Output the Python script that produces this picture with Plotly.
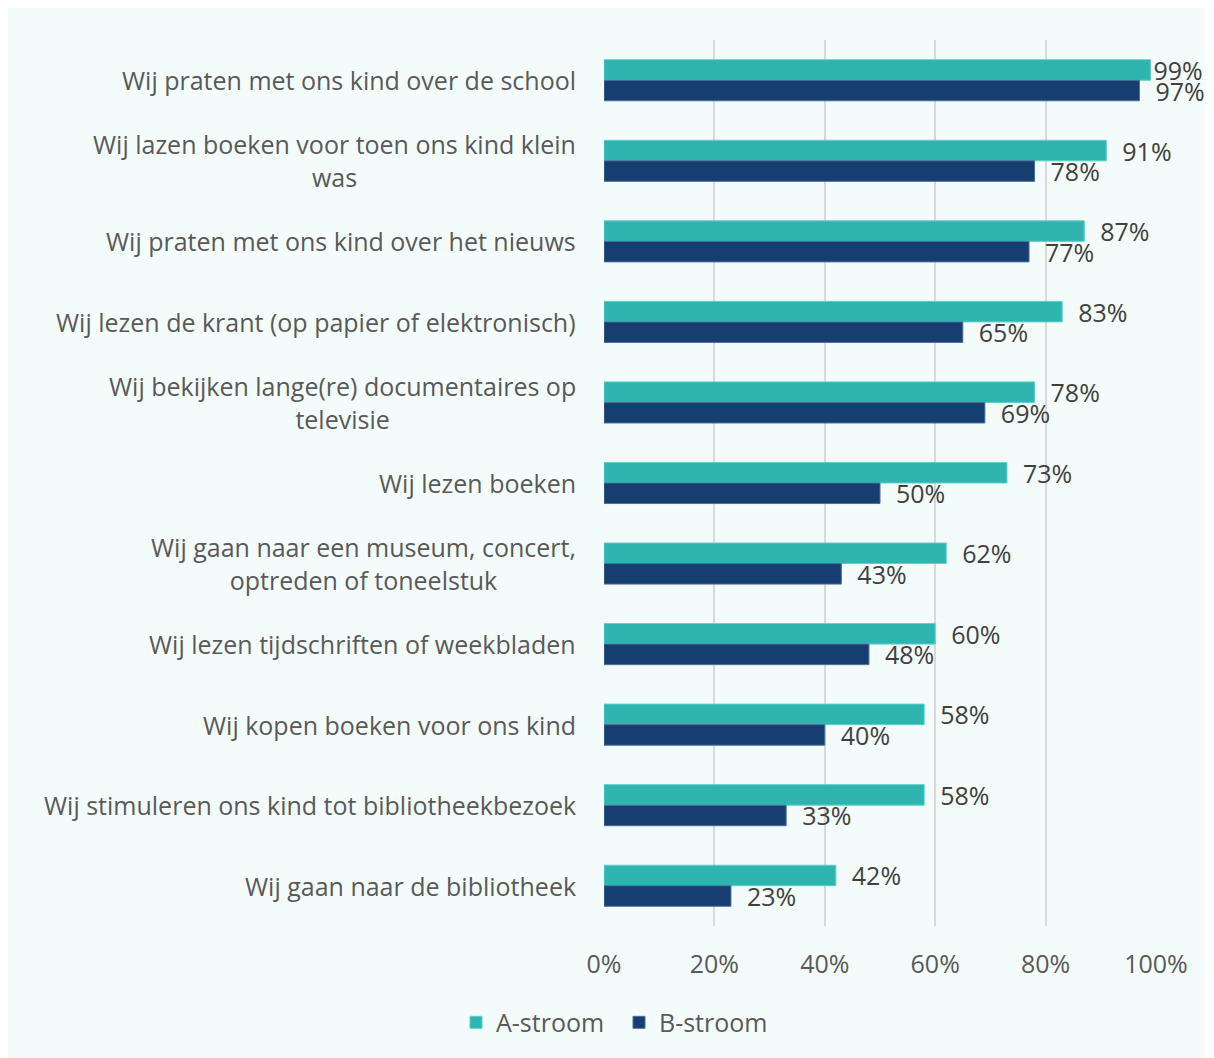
import plotly.graph_objects as go

categories = [
    "Wij praten met ons kind over de school",
    "Wij lazen boeken voor toen ons kind klein<br>was",
    "Wij praten met ons kind over het nieuws",
    "Wij lezen de krant (op papier of elektronisch)",
    "Wij bekijken lange(re) documentaires op<br>televisie",
    "Wij lezen boeken",
    "Wij gaan naar een museum, concert,<br>optreden of toneelstuk",
    "Wij lezen tijdschriften of weekbladen",
    "Wij kopen boeken voor ons kind",
    "Wij stimuleren ons kind tot bibliotheekbezoek",
    "Wij gaan naar de bibliotheek",
]
a_stroom = [99, 91, 87, 83, 78, 73, 62, 60, 58, 58, 42]
b_stroom = [97, 78, 77, 65, 69, 50, 43, 48, 40, 33, 23]
x_ticks = [0, 20, 40, 60, 80, 100]
x_tick_labels = ["0%", "20%", "40%", "60%", "80%", "100%"]

TEAL = "#2fb5af"
NAVY = "#173e70"
BG = "#f4fcfb"
FONT = "Open Sans"
FS = 25
TXT = "#404040"
GRAY = "#595959"

W, H = 1206, 1050
L, R, T, B = 596, 58, 32, 128
PW, PH = W - L - R, H - T - B

def px_x(px):
    return (px - L) / PW

def px_y(py):
    return (H - B - py) / PH

PAD = "\u00a0\u00a0"
# labels near the right edge sit closer to their bar (as in the original)
tt_a = [("" if v >= 98 else PAD) + "%{text}%" for v in a_stroom]
tt_b = [PAD + "%{text}%" for v in b_stroom]

fig = go.Figure()
fig.add_trace(go.Bar(
    y=categories, x=a_stroom, orientation="h", name="A-stroom",
    marker=dict(color=TEAL, line=dict(color="#5fd0c9", width=1)),
    text=a_stroom, texttemplate=tt_a, textposition="outside",
    textfont=dict(family=FONT, size=FS, color=TXT), cliponaxis=False,
    constraintext="none",
))
fig.add_trace(go.Bar(
    y=categories, x=b_stroom, orientation="h", name="B-stroom",
    marker=dict(color=NAVY, line=dict(color="#4f6f99", width=1)),
    text=b_stroom, texttemplate=tt_b, textposition="outside",
    textfont=dict(family=FONT, size=FS, color=TXT), cliponaxis=False,
    constraintext="none",
))

for c in categories:
    fig.add_annotation(
        x=0, xref="paper", y=c, yref="y", text=c, showarrow=False,
        xanchor="right", align="center", xshift=-26,
        font=dict(family=FONT, size=FS, color=GRAY),
    )

fig.update_layout(
    width=W, height=H,
    margin=dict(l=L, r=R, t=T, b=B),
    paper_bgcolor=BG, plot_bgcolor=BG,
    barmode="group", bargap=0.49, bargroupgap=0,
    font=dict(family=FONT, size=FS, color=TXT),
    showlegend=True,
    legend=dict(
        orientation="h", x=px_x(448), xanchor="left", y=px_y(1019), yanchor="middle",
        font=dict(family=FONT, size=FS, color=GRAY),
        bgcolor="rgba(0,0,0,0)", traceorder="normal",
        entrywidth=118, entrywidthmode="pixels",
    ),
    xaxis=dict(
        range=[0, 100], tickvals=x_ticks, ticktext=x_tick_labels,
        showgrid=True, gridcolor="#d9d9d9", gridwidth=1.5,
        zeroline=False, showline=False,
        tickfont=dict(family=FONT, size=FS, color=GRAY),
        ticks="outside", ticklen=16, tickcolor="rgba(0,0,0,0)",
    ),
    yaxis=dict(
        autorange="reversed", showticklabels=False, showgrid=False,
        zeroline=False, showline=False, ticks="",
    ),
)

fig.write_html("out.html")
